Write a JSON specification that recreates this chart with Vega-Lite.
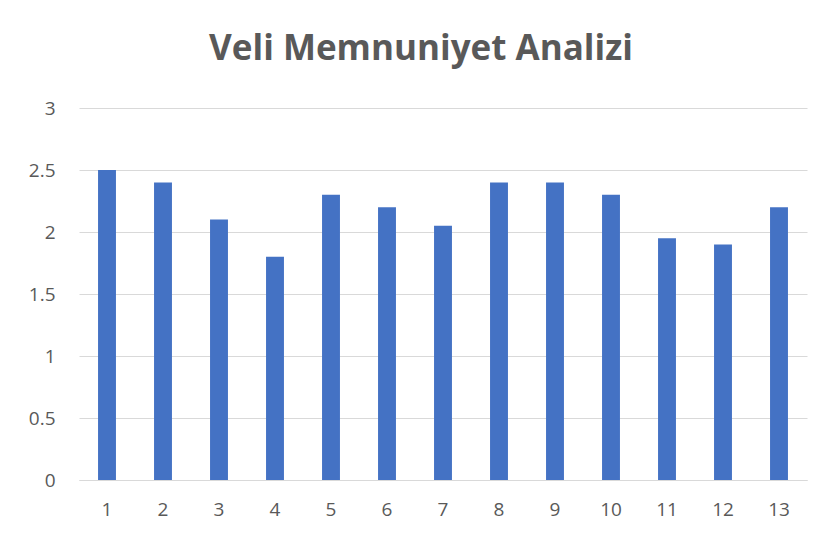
{
  "$schema": "https://vega.github.io/schema/vega-lite/v6.json",
  "width": 728,
  "height": 372,
  "autosize": {"type": "none"},
  "padding": {"left": 79, "top": 108, "right": 19, "bottom": 62},
  "background": "white",
  "title": {
    "text": "Veli Memnuniyet Analizi",
    "font": "Open Sans",
    "fontSize": 35,
    "fontWeight": "bold",
    "color": "#595959",
    "anchor": "middle",
    "dx": -22,
    "baseline": "alphabetic",
    "offset": 4
  },
  "data": {
    "values": [
      {"k": "1", "v": 2.5},
      {"k": "2", "v": 2.4},
      {"k": "3", "v": 2.1},
      {"k": "4", "v": 1.8},
      {"k": "5", "v": 2.3},
      {"k": "6", "v": 2.2},
      {"k": "7", "v": 2.05},
      {"k": "8", "v": 2.4},
      {"k": "9", "v": 2.4},
      {"k": "10", "v": 2.3},
      {"k": "11", "v": 1.95},
      {"k": "12", "v": 1.9},
      {"k": "13", "v": 2.2}
    ]
  },
  "mark": {"type": "bar", "color": "#4472c4"},
  "encoding": {
    "x": {
      "field": "k",
      "type": "ordinal",
      "sort": null,
      "scale": {"paddingInner": 0.68, "paddingOuter": 0.34},
      "axis": {
        "title": null,
        "labelAngle": 0,
        "ticks": false,
        "domainColor": "#d9d9d9",
        "domainWidth": 1,
        "labelFont": "Open Sans",
        "labelFontSize": 19,
        "labelColor": "#595959",
        "labelPadding": 20
      }
    },
    "y": {
      "field": "v",
      "type": "quantitative",
      "scale": {"domain": [0, 3]},
      "axis": {
        "title": null,
        "values": [0, 0.5, 1, 1.5, 2, 2.5, 3],
        "format": "~g",
        "domain": false,
        "ticks": false,
        "gridColor": "#d9d9d9",
        "gridWidth": 1,
        "labelFont": "Open Sans",
        "labelFontSize": 19,
        "labelColor": "#595959",
        "labelPadding": 24
      }
    }
  },
  "config": {"view": {"stroke": null}}
}
